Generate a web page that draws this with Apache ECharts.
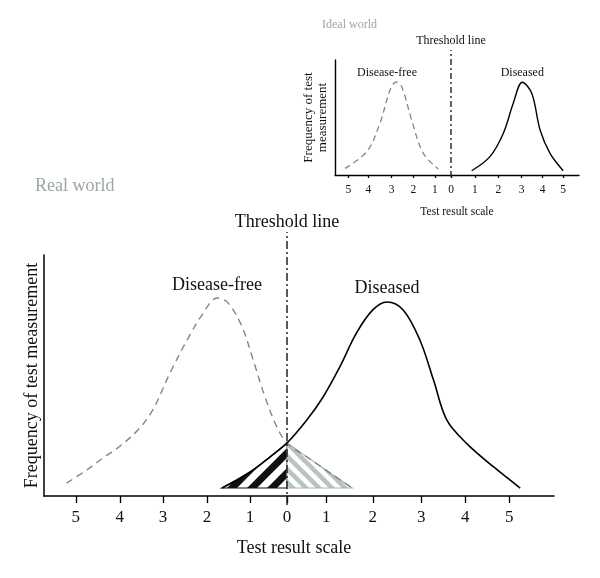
<!DOCTYPE html>
<html>
<head>
<meta charset="utf-8">
<script src="https://cdn.jsdelivr.net/npm/echarts@6/dist/echarts.min.js"></script>
<style>html,body{margin:0;padding:0;background:#fff}#c{width:600px;height:578px}</style>
</head>
<body>
<div id="c"></div>
<script>
// ---------- data ----------
// Main ("Real world") panel: x = position on test result scale (left half mirrored for disease-free)
const mainTickPos    = [-4.80, -3.80, -2.82, -1.82, -0.84, 0, 0.89, 1.95, 3.05, 4.05, 5.05];
const mainTickLabels = ['5', '4', '3', '2', '1', '0', '1', '2', '3', '4', '5'];
const mainDiseaseFree = [[-5.01,2.6],[-4.55,9.5],[-4.18,15.8],[-3.80,22.0],[-3.39,30.5],[-3.05,41.1],[-2.66,60.5],[-2.27,77.9],[-1.93,91.1],[-1.59,100],[-1.34,97.4],[-1.02,84.7],[-0.77,67.4],[-0.50,47.9],[-0.23,32.1],[0,23.7],[0.5,15.6],[1.0,7.6],[1.48,0]];
const mainDiseased = [[-1.48,0],[-1.14,4.2],[-0.77,9.5],[-0.39,16.3],[0,23.7],[0.45,35.8],[0.82,47.9],[1.20,63.7],[1.58,81.6],[1.95,93.7],[2.27,97.9],[2.64,93.7],[3.02,77.9],[3.33,56.8],[3.63,35.8],[4.08,23.5],[4.69,11.2],[5.30,0]];
const mainThresholdX = 0;
// Inset ("Ideal world") panel
const insetTickPos    = [-4.67, -3.76, -2.70, -1.71, -0.73, 0, 1.09, 2.15, 3.21, 4.17, 5.10];
const insetTickLabels = ['5', '4', '3', '2', '1', '0', '1', '2', '3', '4', '5'];
const insetDiseaseFree = [[-4.82,3.0],[-3.83,21.7],[-3.23,53.6],[-2.77,91.0],[-2.5,100],[-2.24,94.7],[-1.79,57.3],[-1.26,19.9],[-0.58,2.2]];
const insetDiseased = [[0.94,0.3],[1.77,16.1],[2.38,42.4],[2.83,76.1],[3.24,99.7],[3.67,87.3],[4.05,46.1],[4.5,19.9],[5.10,0.3]];
const insetThresholdX = 0;

// ---------- helpers ----------
const FONT = '"Liberation Serif", "DejaVu Serif", serif';
const GRAYTXT = '#9ba7a5';
function stripes(color, dir, size, lw) {
  const c = document.createElement('canvas');
  c.width = c.height = size;
  const g = c.getContext('2d');
  g.fillStyle = '#fff'; g.fillRect(0, 0, size, size);
  g.strokeStyle = color; g.lineWidth = lw; g.lineCap = 'square';
  for (let k = -2; k <= 3; k++) {
    const cc = k * size;
    g.beginPath();
    if (dir > 0) { g.moveTo(cc - 2 * size, 2 * size); g.lineTo(cc + size, -size); }
    else { g.moveTo(cc - size, -size); g.lineTo(cc + 2 * size, 2 * size); }
    g.stroke();
  }
  return c;
}
const blackPattern = { image: stripes('#111', 1, 20, 7), repeat: 'repeat' };
const grayPattern = { image: stripes('#b9c3c0', -1, 13, 4.5), repeat: 'repeat' };

function labelLookup(pos, labels) {
  return function (v) {
    let best = 0;
    for (let i = 1; i < pos.length; i++) if (Math.abs(pos[i] - v) < Math.abs(pos[best] - v)) best = i;
    return labels[best];
  };
}
function withPeakLabel(arr, text, fontSize, distance, offset) {
  let pk = 0;
  arr.forEach((p, i) => { if (p[1] > arr[pk][1]) pk = i; });
  return arr.map((p, i) => i === pk ? {
    value: p,
    label: { show: true, position: 'top', distance: distance, offset: offset || [0, 0], formatter: text,
             fontFamily: FONT, fontSize: fontSize, color: '#111' }
  } : { value: p });
}
function thresholdData(x, text, fontSize, distance) {
  return [{ value: [x, 0] }, { value: [x, 1], label: { show: true, position: 'top', distance: distance, formatter: text, fontFamily: FONT, fontSize: fontSize, color: '#111' } }];
}
function triangle(curve, side) {
  const pts = curve.filter(p => side < 0 ? p[0] <= 0 : p[0] >= 0);
  return side < 0 ? pts.concat([[0, 0]]) : [[0, 0]].concat(pts);
}
function polySeries(verts, fill, stroke) {
  return {
    type: 'custom', xAxisIndex: 0, yAxisIndex: 0, z: 1, silent: true,
    data: verts,
    renderItem: function (params, api) {
      if (params.dataIndex !== 0) return null;
      const pts = verts.map(v => api.coord(v));
      return { type: 'polygon', shape: { points: pts }, style: { fill: fill, stroke: stroke, lineWidth: 1.2 } };
    }
  };
}

function mkX(grid, min, max, pos, labels, opts) {
  return {
    gridIndex: grid, type: 'value', min: min, max: max,
    splitLine: { show: false },
    axisLine: { show: true, onZero: false, lineStyle: { color: '#000', width: opts.lw } },
    axisTick: { show: true, customValues: pos, length: opts.tickLen, lineStyle: { color: '#000', width: opts.lw * 0.9 } },
    axisLabel: { customValues: pos, formatter: labelLookup(pos, labels), fontFamily: FONT, fontSize: opts.fs, color: '#111', margin: opts.margin },
    name: 'Test result scale', nameLocation: 'middle', nameGap: opts.nameGap,
    nameTextStyle: { fontFamily: FONT, fontSize: opts.nameFs, color: '#111', padding: opts.namePad || 0 }
  };
}
function hiddenAxis(grid, min, max) {
  return { gridIndex: grid, type: 'value', min: min, max: max, show: false, splitLine: { show: false } };
}

const chart = echarts.init(document.getElementById('c'), null, { renderer: 'canvas' });
chart.setOption({
  animation: false,
  backgroundColor: '#fff',
  title: [
    { text: 'Real world', left: 35, top: 177, padding: 0, textStyle: { fontFamily: FONT, fontSize: 18, fontWeight: 'normal', color: GRAYTXT } },
    { text: 'Ideal world', left: 322, top: 19, padding: 0, textStyle: { fontFamily: FONT, fontSize: 12, fontWeight: 'normal', color: GRAYTXT } }
  ],
  grid: [
    { left: 44, right: 46, top: 255, bottom: 82 },
    { left: 44, right: 46, top: 232, bottom: 73 },
    { left: 335, right: 21, top: 60, bottom: 403 },
    { left: 335, right: 21, top: 50, bottom: 401 }
  ],
  xAxis: [
    mkX(0, -5.523, 6.068, mainTickPos, mainTickLabels, { lw: 1.5, tickLen: 7, fs: 17, margin: 13, nameGap: 43, nameFs: 18, namePad: [0, 10, 0, 0] }),
    hiddenAxis(1, -5.523, 6.068),
    mkX(2, -5.273, 5.818, insetTickPos, insetTickLabels, { lw: 1.4, tickLen: 3, fs: 11.5, margin: 9, nameGap: 31, nameFs: 11.5 }),
    hiddenAxis(3, -5.273, 5.818)
  ],
  yAxis: [
    { gridIndex: 0, type: 'value', min: -4.2, max: 122.6, splitLine: { show: false },
      axisLine: { show: true, onZero: false, lineStyle: { color: '#000', width: 1.5 } },
      axisTick: { show: false }, axisLabel: { show: false },
      name: 'Frequency of test measurement', nameLocation: 'middle', nameGap: 3,
      nameTextStyle: { fontFamily: FONT, fontSize: 18, color: '#111' } },
    hiddenAxis(1, 0, 1),
    { gridIndex: 2, type: 'value', min: -4.5, max: 124.7, splitLine: { show: false },
      axisLine: { show: true, onZero: false, lineStyle: { color: '#000', width: 1.4 } },
      axisTick: { show: false }, axisLabel: { show: false },
      name: 'Frequency of test\nmeasurement', nameLocation: 'middle', nameGap: 5,
      nameTextStyle: { fontFamily: FONT, fontSize: 13, lineHeight: 14, color: '#111' } },
    hiddenAxis(3, 0, 1)
  ],
  series: [
    polySeries(triangle(mainDiseased, -1), blackPattern, '#111'),
    polySeries(triangle(mainDiseaseFree, 1), grayPattern, '#aab5b2'),
    { type: 'line', xAxisIndex: 0, yAxisIndex: 0, z: 3, silent: true, smooth: 0.35,
      symbol: 'circle', symbolSize: 0, showSymbol: true, showAllSymbol: true,
      lineStyle: { color: '#858585', width: 1.4, type: [7, 5] },
      data: withPeakLabel(mainDiseaseFree, 'Disease-free', 18, 4) },
    { type: 'line', xAxisIndex: 0, yAxisIndex: 0, z: 3, silent: true, smooth: 0.35,
      symbol: 'circle', symbolSize: 0, showSymbol: true, showAllSymbol: true,
      lineStyle: { color: '#000', width: 1.6 },
      data: withPeakLabel(mainDiseased, 'Diseased', 18, 5) },
    { type: 'line', xAxisIndex: 1, yAxisIndex: 1, z: 4, silent: true,
      symbol: 'circle', symbolSize: 0, showSymbol: true,
      lineStyle: { color: '#222', width: 1.5, type: [8, 3, 2, 3] },
      data: thresholdData(mainThresholdX, 'Threshold line', 18, 1) },
    { type: 'line', xAxisIndex: 2, yAxisIndex: 2, z: 3, silent: true, smooth: 0.35,
      symbol: 'circle', symbolSize: 0, showSymbol: true, showAllSymbol: true,
      lineStyle: { color: '#858585', width: 1.3, type: [6, 4] },
      data: withPeakLabel(insetDiseaseFree, 'Disease-free', 12, 3, [-9, 0]) },
    { type: 'line', xAxisIndex: 2, yAxisIndex: 2, z: 3, silent: true, smooth: 0.35,
      symbol: 'circle', symbolSize: 0, showSymbol: true, showAllSymbol: true,
      lineStyle: { color: '#000', width: 1.4 },
      data: withPeakLabel(insetDiseased, 'Diseased', 12, 3) },
    { type: 'line', xAxisIndex: 3, yAxisIndex: 3, z: 4, silent: true,
      symbol: 'circle', symbolSize: 0, showSymbol: true,
      lineStyle: { color: '#222', width: 1.4, type: [6, 3, 2, 3] },
      data: thresholdData(insetThresholdX, 'Threshold line', 12, 3) }
  ]
});
</script>
</body>
</html>
